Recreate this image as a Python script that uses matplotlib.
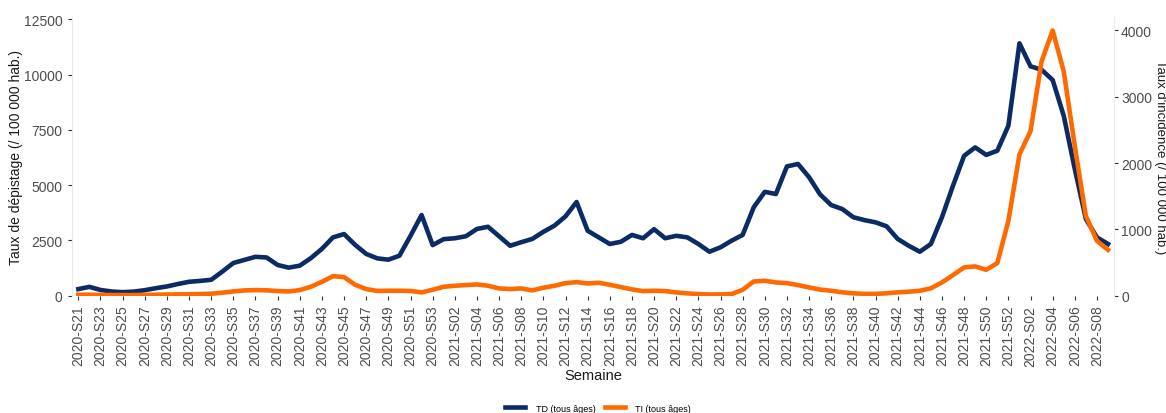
import numpy as np
import matplotlib
matplotlib.use("Agg")
import matplotlib.pyplot as plt

plt.rcParams['font.family'] = ['Liberation Sans', 'DejaVu Sans']

# weeks 2020-S21 .. 2022-S09
weeks = ([f"2020-S{w:02d}" for w in range(21, 54)]
         + [f"2021-S{w:02d}" for w in range(1, 53)]
         + [f"2022-S{w:02d}" for w in range(1, 10)])

# taux de depistage (tous ages)
td = [300, 400, 260, 190, 160, 185, 250, 340, 420, 530,
      630, 670, 720, 1090, 1480, 1620, 1760, 1730, 1390, 1270,
      1360, 1700, 2120, 2640, 2790, 2300, 1890, 1690, 1630, 1810,
      2710, 3650, 2290, 2560, 2600, 2690, 3020, 3120, 2690, 2260,
      2420, 2570, 2890, 3170, 3590, 4240, 2940, 2640, 2340, 2440,
      2750, 2600, 3010, 2600, 2710, 2640, 2340, 1990, 2190, 2490,
      2750, 4000, 4700, 4600, 5850, 5960, 5360, 4580, 4100, 3920,
      3550, 3420, 3320, 3140, 2570, 2260, 1990, 2340, 3550, 4980,
      6330, 6710, 6370, 6560, 7690, 11420, 10380, 10220, 9760, 8140,
      5730, 3470, 2640, 2340]

# taux d'incidence (tous ages)
ti = [15, 15, 12, 10, 10, 10, 12, 15, 18, 20,
      22, 25, 30, 45, 65, 80, 85, 82, 70, 65,
      85, 135, 210, 295, 280, 165, 100, 72, 75, 75,
      72, 50, 90, 135, 150, 160, 170, 150, 110, 100,
      110, 80, 120, 150, 190, 205, 185, 195, 165, 130,
      95, 70, 75, 70, 50, 35, 25, 18, 20, 25,
      90, 215, 225, 200, 190, 160, 125, 92, 75, 51,
      36, 28, 28, 36, 51, 60, 75, 111, 200, 311,
      427, 442, 391, 492, 1128, 2131, 2482, 3534, 4000, 3384,
      2256, 1203, 827, 692]

navy = '#0c2b64'
orange = '#ff6a00'
grey_txt = '#4d4d4d'

x = np.arange(len(weeks))

fig = plt.figure(figsize=(11.66, 4.14), dpi=100)
ax = fig.add_axes([0.0615, 0.2833, 0.894, 0.6727])
ax2 = ax.twinx()

l1, = ax.plot(x, td, color=navy, lw=3.3, solid_joinstyle='round', label='TD (tous âges)')
l2, = ax2.plot(x, ti, color=orange, lw=3.3, solid_joinstyle='round', label='TI (tous âges)')

ax.set_xlim(-0.6, len(weeks) - 1 + 0.55)
ax.set_ylim(0, 12600)
ax2.set_ylim(0, 4200)

ax.set_yticks([0, 2500, 5000, 7500, 10000, 12500])
ax2.set_yticks([0, 1000, 2000, 3000, 4000])
ax.set_xticks(x[::2])
ax.set_xticklabels(weeks[::2], rotation=90)

for a in (ax, ax2):
    for s in a.spines.values():
        s.set_visible(False)
    a.tick_params(colors='#333333', labelcolor=grey_txt, labelsize=10, length=3, width=0.8)
ax2.tick_params(axis='y', pad=2)
ax.spines['left'].set_visible(True)
ax.spines['left'].set_color('#ebebeb')
ax2.spines['right'].set_visible(True)
ax2.spines['right'].set_color('#ebebeb')

ax.set_ylabel('Taux de dépistage (/ 100 000 hab.)', fontsize=10, color='#1a1a1a', labelpad=1)
ax2.set_ylabel("Taux d'incidence (/ 100 000 hab.)", fontsize=9.5, color='#1a1a1a',
               rotation=270, va='center', ha='center')
ax2.yaxis.set_label_coords(1.0445, 0.5)
ax.set_xlabel('Semaine', fontsize=10.5, color='#1a1a1a', labelpad=2)

fig.legend(handles=[l1, l2], loc='center', bbox_to_anchor=(0.513, 0.012), ncol=2,
           frameon=False, fontsize=6.5, handlelength=2.2, handletextpad=1.2, columnspacing=1.0)

fig.savefig('out.png', dpi=100)
